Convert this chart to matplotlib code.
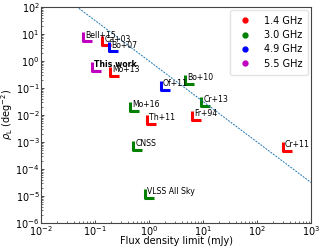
import numpy as np
import matplotlib
matplotlib.use("Agg")
import matplotlib.pyplot as plt
from matplotlib.path import Path
from matplotlib.lines import Line2D

# Data (flux density limit in mJy, surface density in deg^-2)
labels = ["Bell+15", "Ca+03", "Bo+07", "This work", "Mo+13", "Bo+10", "Of+11",
          "Mo+16", "Th+11", "Cr+13", "Fr+94", "CNSS", "VLSS All Sky", "Cr+11"]
flux = [0.059, 0.136, 0.18, 0.089, 0.188, 4.6, 1.65,
        0.44, 0.91, 9.3, 6.3, 0.51, 0.85, 298]
rho = [5.3, 3.75, 2.25, 0.43, 0.278, 0.14, 0.084,
       0.014, 0.0048, 0.0216, 0.0065, 5.0e-4, 8.4e-6, 4.6e-4]
colors = ["m", "r", "b", "m", "r", "g", "b",
          "g", "r", "g", "r", "g", "g", "r"]

legend_labels = ["1.4 GHz", "3.0 GHz", "4.9 GHz", "5.5 GHz"]
legend_colors = ["r", "g", "b", "m"]

line_x = np.logspace(-2, 3, 100)
line_slope = -1.5

fig = plt.figure(figsize=(3.24, 2.48), dpi=100)
ax = fig.add_axes([0.1265, 0.1008, 0.8335, 0.8712])

Lmarker = Path([(0, 1), (0, 0), (1, 0)], [Path.MOVETO, Path.LINETO, Path.LINETO])

for x, y, c, lab in zip(flux, rho, colors, labels):
    ax.plot([x], [y], marker=Lmarker, markeredgecolor=c, markerfacecolor="none",
            fillstyle="none", markersize=12.5,
            markeredgewidth=2.2, linestyle="none")
    ax.annotate(lab, (x, y), xytext=(1.6, 1.2), textcoords="offset points",
                fontsize=5.6, ha="left", va="bottom",
                fontweight="bold" if lab == "This work" else "normal")

ax.plot(line_x, line_x ** line_slope, linestyle=(0, (2.0, 1.2)), color="#1f77b4", lw=0.7)

ax.set_xscale("log")
ax.set_yscale("log")
ax.set_xlim(1e-2, 1e3)
ax.set_ylim(1e-6, 1e2)
ax.tick_params(which="both", direction="in")
ax.tick_params(labelsize=7, length=2, width=0.5, pad=1)
ax.tick_params(which="minor", length=1.2, width=0.4)
for s in ax.spines.values():
    s.set_linewidth(0.8)
    s.set_color("#444444")
ax.set_xlabel("Flux density limit (mJy)", fontsize=7, labelpad=-1.5)
ax.set_ylabel(r"$\rho_{\rm L}$ (deg$^{-2}$)", fontsize=7, labelpad=0)

handles = [Line2D([], [], marker="o", color=c, linestyle="none", markersize=3.5)
           for c in legend_colors]
ax.legend(handles, legend_labels, loc="upper right", fontsize=7,
          handletextpad=0.9, borderpad=0.6, labelspacing=0.45, borderaxespad=0.3,
          framealpha=0.8, edgecolor="#dddddd", fancybox=True)

fig.savefig("out.png", dpi=100)
